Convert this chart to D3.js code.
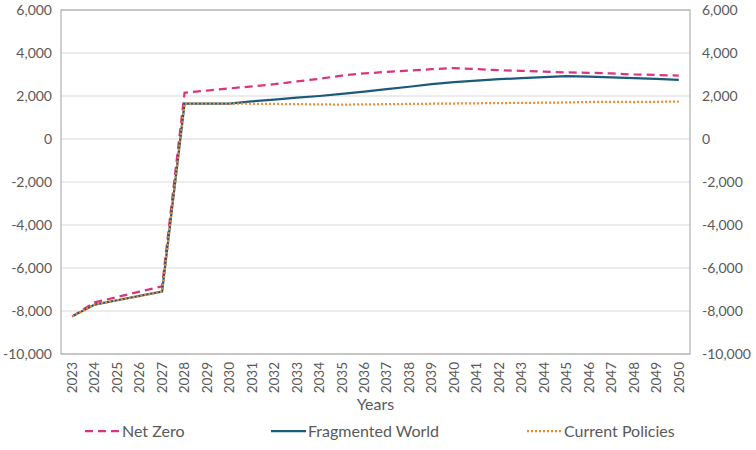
<!DOCTYPE html>
<meta charset="utf-8">
<head>
<style>
  body { margin: 0; background: #fff; }
  text { font-family: Lato, "Open Sans", sans-serif; }
</style>
</head>
<script src="https://d3js.org/d3.v7.min.js"></script>
<body>
<div id="my_dataviz"></div>
</body>
<script>
    // data
    var years = d3.range(2023, 2051).map(String);
    var netZero = [-8250, -7600, -7350, -7100, -6850, 2150, 2250, 2350, 2450, 2550, 2680, 2800, 2950, 3050,
                   3120, 3180, 3250, 3300, 3250, 3200, 3170, 3130, 3100, 3080, 3050, 3000, 2980, 2950];
    var fragmented = [-8250, -7700, -7500, -7300, -7100, 1650, 1650, 1650, 1750, 1830, 1920, 2000, 2100, 2200,
                      2320, 2430, 2550, 2650, 2720, 2780, 2830, 2880, 2930, 2900, 2870, 2830, 2800, 2750];
    var current = [-8250, -7700, -7500, -7300, -7100, 1650, 1650, 1650, 1640, 1630, 1620, 1610, 1600, 1610,
                   1620, 1630, 1640, 1650, 1660, 1670, 1680, 1690, 1700, 1720, 1730, 1720, 1730, 1740];
    var yTicks = [-10000, -8000, -6000, -4000, -2000, 0, 2000, 4000, 6000];

    var series = [
      {name: "Net Zero", values: netZero, color: "#d9347f", dash: "8,5"},
      {name: "Fragmented World", values: fragmented, color: "#1b5a78", dash: null},
      {name: "Current Policies", values: current, color: "#f5892c", dash: "2,2"}
    ];

    var W = 756, H = 450;
    var margin = {top: 10, right: 66, bottom: 96, left: 61},
        width = W - margin.left - margin.right,
        height = H - margin.top - margin.bottom;

    var svg = d3.select("#my_dataviz")
      .append("svg")
        .attr("width", W)
        .attr("height", H);
    var g = svg.append("g")
        .attr("transform", "translate(" + margin.left + "," + margin.top + ")");

    var x = d3.scaleBand().domain(years).range([0, width]).padding(0);
    var y = d3.scaleLinear().domain([-10000, 6000]).range([height, 0]);

    var fmt = d3.formatLocale({decimal: ".", thousands: ",", grouping: [3], currency: ["", ""], minus: "-"}).format(",");

    // gridlines
    g.append("g").selectAll("line")
      .data(yTicks)
      .enter().append("line")
        .attr("x1", 0).attr("x2", width)
        .attr("y1", function(d) { return y(d); })
        .attr("y2", function(d) { return y(d); })
        .style("stroke", "#d9d9d9")
        .style("stroke-width", 1);

    // plot frame
    g.append("rect")
      .attr("x", 0).attr("y", 0)
      .attr("width", width).attr("height", height)
      .style("fill", "none")
      .style("stroke", "#a0a0a0")
      .style("stroke-width", 1);

    // left axis
    var yLeft = g.append("g").call(d3.axisLeft(y).tickValues(yTicks).tickFormat(fmt).tickSize(0).tickPadding(9));
    yLeft.select(".domain").remove();
    yLeft.selectAll("text").style("font-size", "14px").style("fill", "#595959").style("font-family", "Lato");

    // right axis
    var yRight = g.append("g").attr("transform", "translate(" + width + ",0)")
      .call(d3.axisRight(y).tickValues(yTicks).tickFormat(fmt).tickSize(0).tickPadding(12));
    yRight.select(".domain").remove();
    yRight.selectAll("text").style("font-size", "14px").style("fill", "#595959").style("font-family", "Lato");

    // x axis
    var xAxis = g.append("g").attr("transform", "translate(0," + height + ")")
      .call(d3.axisBottom(x).tickSize(0));
    xAxis.select(".domain").remove();
    xAxis.selectAll("text")
      .attr("transform", "rotate(-90)")
      .attr("x", -8).attr("y", 0).attr("dy", "0.35em")
      .style("text-anchor", "end")
      .style("font-size", "13.5px").style("fill", "#595959").style("font-family", "Lato");

    svg.append("text")
      .attr("x", margin.left + width / 2)
      .attr("y", 410)
      .style("text-anchor", "middle")
      .style("font-size", "16px").style("fill", "#595959")
      .text("Years");

    // lines
    var line = d3.line()
      .x(function(d, i) { return x(years[i]) + x.bandwidth() / 2; })
      .y(function(d) { return y(d); });

    series.forEach(function(s) {
      g.append("path")
        .datum(s.values)
        .attr("d", line)
        .style("fill", "none")
        .style("stroke", s.color)
        .style("stroke-width", 2.25)
        .style("stroke-dasharray", s.dash);
    });

    // legend
    var legendX = [85, 271, 527];
    series.forEach(function(s, i) {
      var lg = svg.append("g").attr("transform", "translate(" + legendX[i] + ",431)");
      lg.append("line")
        .attr("x1", 0).attr("x2", 35).attr("y1", 0).attr("y2", 0)
        .style("stroke", s.color).style("stroke-width", 2.25)
        .style("stroke-dasharray", s.dash);
      lg.append("text")
        .attr("x", 37).attr("y", 0).attr("dy", "0.35em")
        .style("font-size", "16px").style("fill", "#595959")
        .text(s.name);
    });
</script>
